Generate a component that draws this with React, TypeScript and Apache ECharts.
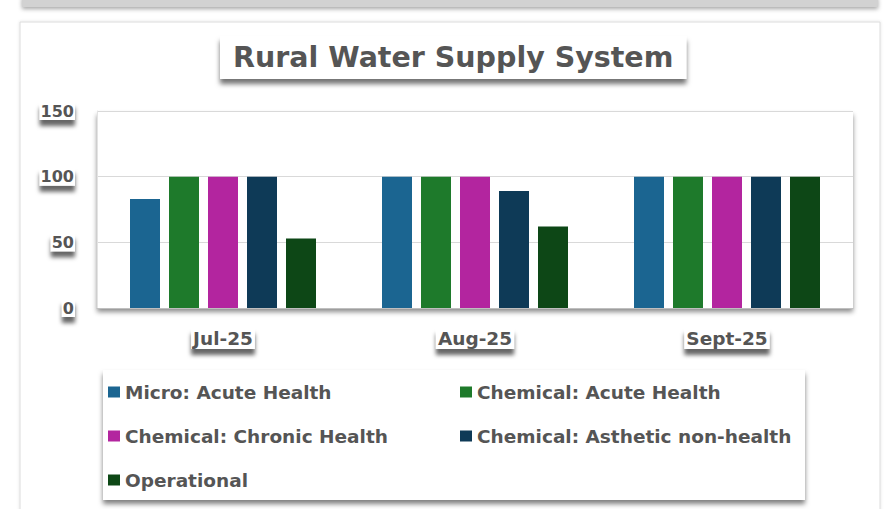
import React, { useEffect, useRef } from "react";
import * as echarts from "echarts";

const categories = ["Jul-25", "Aug-25", "Sept-25"];
const seriesNames = [
  "Micro: Acute Health",
  "Chemical: Acute Health",
  "Chemical: Chronic Health",
  "Chemical: Asthetic non-health",
  "Operational",
];
const microAcute = [83, 100, 100];
const chemicalAcute = [100, 100, 100];
const chemicalChronic = [100, 100, 100];
const chemicalAsthetic = [100, 89, 100];
const operational = [53, 62, 100];
const colors = ["#1b6591", "#1e7a2b", "#b3259f", "#0e3a57", "#0d4716"];
const yTicks = [0, 50, 100, 150];

const FONT = "'DejaVu Sans', sans-serif";
const TEXT = "#555555";

export default function App() {
  const ref = useRef<HTMLDivElement>(null);
  useEffect(() => {
    if (!ref.current) return;
    const chart = echarts.init(ref.current, null, { renderer: "svg" });
    const data = [microAcute, chemicalAcute, chemicalChronic, chemicalAsthetic, operational];
    chart.setOption({
      animation: false,
      backgroundColor: "#ffffff",
      graphic: [
        {
          type: "rect",
          shape: { x: 22, y: -4, width: 856, height: 11 },
          style: { fill: "#d2d2d2", shadowColor: "rgba(0,0,0,0.35)", shadowBlur: 4, shadowOffsetY: 2 },
          z: -10,
        },
        {
          type: "rect",
          shape: { x: 20, y: 22, width: 860, height: 500 },
          style: { fill: "#ffffff", stroke: "#dcdcdc", lineWidth: 1, shadowColor: "rgba(0,0,0,0.12)", shadowBlur: 3 },
          z: -10,
        },
      ],
      title: {
        text: "Rural Water Supply System",
        left: 220,
        top: 36,
        padding: [7, 13, 7, 13],
        backgroundColor: "#ffffff",
        shadowColor: "rgba(0,0,0,0.55)",
        shadowBlur: 5,
        shadowOffsetY: 5,
        textStyle: { fontFamily: FONT, fontSize: 28.5, fontWeight: "bold", color: TEXT },
      },
      legend: {
        left: 103,
        top: 370,
        orient: "horizontal",
        width: 702,
        itemGap: 8,
        itemWidth: 12,
        itemHeight: 11,
        icon: "rect",
        padding: [4, 1, 2, 5],
        backgroundColor: "#ffffff",
        shadowColor: "rgba(0,0,0,0.5)",
        shadowBlur: 5,
        shadowOffsetY: 4,
        data: seriesNames,
        textStyle: {
          fontFamily: FONT,
          fontSize: 18.5,
          fontWeight: "bold",
          color: TEXT,
          width: 327,
          lineHeight: 36,
          overflow: "none",
        },
      },
      grid: {
        left: 97,
        right: 33,
        top: 111,
        bottom: 201,
        show: true,
        borderWidth: 0,
        backgroundColor: "#ffffff",
        shadowColor: "rgba(0,0,0,0.45)",
        shadowBlur: 5,
        shadowOffsetY: 4,
      },
      xAxis: {
        type: "category",
        data: categories,
        axisTick: { show: false },
        axisLine: { show: true, lineStyle: { color: "#bfbfbf", width: 1 } },
        axisLabel: {
          fontFamily: FONT,
          fontSize: 18.5,
          fontWeight: "bold",
          color: TEXT,
          margin: 20,
          padding: [1, 2, 1, 2],
          backgroundColor: "#ffffff",
          shadowColor: "rgba(0,0,0,0.6)",
          shadowBlur: 4,
          shadowOffsetY: 6,
        },
      },
      yAxis: {
        type: "value",
        min: 0,
        max: 150,
        interval: 50,
        axisLine: { show: true, lineStyle: { color: "#e3e3e3" } },
        axisTick: { show: false },
        splitLine: { lineStyle: { color: "#d9d9d9", width: 1 } },
        axisLabel: {
          fontFamily: FONT,
          fontSize: 16,
          fontWeight: "bold",
          color: TEXT,
          margin: 22,
          padding: [1, 1, 1, 1],
          backgroundColor: "#ffffff",
          shadowColor: "rgba(0,0,0,0.6)",
          shadowBlur: 4,
          shadowOffsetY: 6,
          formatter: (v: number) => (yTicks.includes(v) ? String(v) : ""),
        },
      },
      series: seriesNames.map((name, i) => ({
        name,
        type: "bar",
        data: data[i],
        barWidth: 30,
        barGap: "30%",
        itemStyle: { color: colors[i] },
      })),
    });
    return () => chart.dispose();
  }, []);
  return (
    <div
      ref={ref}
      style={{ position: "fixed", left: 0, top: 0, width: 886, height: 509, background: "#fff" }}
    />
  );
}
